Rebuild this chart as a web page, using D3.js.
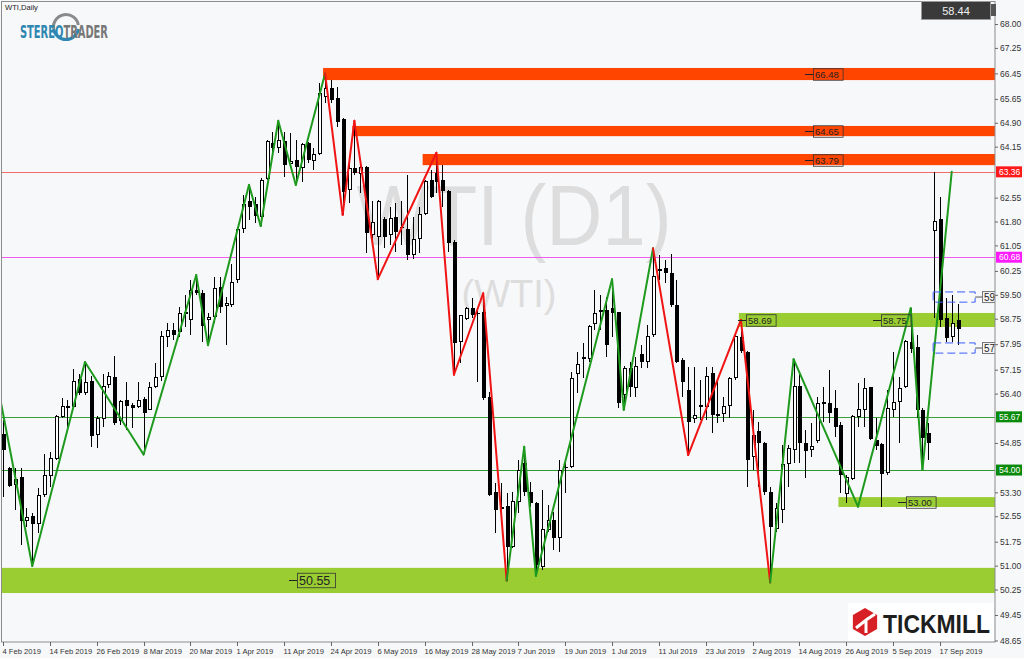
<!DOCTYPE html>
<html><head><meta charset="utf-8">
<script src="https://cdn.jsdelivr.net/npm/d3@7/dist/d3.min.js"></script>
<style>
html,body{margin:0;padding:0;background:#f7f8fa;}
svg{display:block;}
</style></head><body>
<svg id="c" width="1024" height="658"></svg>
<script>
// ---------- DATA ----------
const open = [55.12,54.05,53.56,53.79,52.43,52.56,52.33,53.22,53.84,54.37,55.67,55.97,55.99,56.85,56.43,56.79,55.12,55.62,56.67,56.91,
55.57,56.20,56.04,55.99,56.23,55.90,56.62,56.93,58.19,58.40,58.34,58.93,58.71,59.65,59.55,58.71,58.82,59.73,59.15,59.21,
59.97,61.59,62.45,62.34,61.95,63.16,64.25,64.13,64.34,63.63,63.73,63.50,64.25,63.73,63.94,65.72,65.98,65.67,65.01,62.79,
63.47,63.31,63.50,61.38,61.33,61.87,61.38,61.95,61.64,61.56,60.78,61.27,62.06,63.10,63.33,63.10,62.77,61.17,58.03,58.76,
59.08,58.92,58.97,56.30,53.32,52.83,52.87,51.60,53.01,54.21,53.32,52.98,50.97,52.14,52.43,51.89,54.08,54.11,57.02,57.56,
57.51,58.60,59.02,59.02,59.10,58.95,56.36,57.19,56.60,57.63,57.40,58.24,60.30,60.33,60.17,59.18,57.45,56.51,55.63,55.99,
55.99,57.04,55.76,55.76,56.04,56.91,58.19,57.72,54.42,55.21,54.84,53.32,52.17,52.75,54.21,54.65,56.64,54.84,54.65,54.94,
56.15,56.12,55.94,55.41,53.27,53.74,55.68,55.89,56.60,54.94,54.81,53.92,55.91,56.15,56.62,58.03,57.85,55.89,55.15,61.51,
61.87,58.76,58.19,58.71];
const high = [55.57,54.11,54.05,54.05,52.80,52.64,53.43,54.50,54.58,55.73,56.25,56.20,57.16,57.03,57.39,56.95,55.70,57.03,57.09,57.58,
56.20,56.77,56.09,56.77,56.30,56.77,57.37,58.35,58.61,58.61,59.13,59.50,59.97,60.12,59.65,58.92,60.07,60.07,59.44,60.47,
61.64,62.63,62.95,62.58,63.16,64.36,64.62,64.96,64.62,64.57,64.36,64.28,64.31,64.10,66.14,66.45,66.24,66.03,65.04,63.68,
64.96,63.57,63.54,62.43,62.48,61.95,62.27,62.37,62.43,63.26,61.95,62.27,63.10,63.42,63.96,63.57,62.79,61.22,58.87,59.13,
59.39,59.02,59.55,56.46,53.58,53.58,53.27,53.32,54.32,54.73,53.64,53.01,53.38,52.90,52.69,54.32,54.32,57.09,57.72,57.98,
58.55,59.65,59.49,59.44,59.99,58.97,57.27,57.40,57.56,57.92,58.55,60.96,60.75,60.59,60.78,59.97,57.51,57.25,57.25,56.83,
57.25,57.25,56.83,56.30,56.93,58.29,58.71,57.75,55.89,55.52,54.89,53.48,52.96,54.79,54.79,57.48,57.04,55.26,55.47,56.30,
56.62,57.14,56.51,55.52,53.85,55.73,56.72,56.88,56.62,55.62,54.84,56.51,57.72,56.93,58.08,59.08,58.24,55.94,55.47,63.36,
62.58,59.39,59.49,59.21];
const low = [53.16,53.48,52.75,51.65,52.22,50.99,52.01,53.16,53.48,54.31,55.62,55.36,55.94,56.35,56.35,54.73,54.68,55.36,56.56,55.41,
55.41,55.26,55.31,55.94,54.49,55.88,56.56,56.80,57.87,58.08,58.19,58.50,58.24,59.50,58.03,57.93,58.61,58.92,57.93,59.13,
59.88,61.43,61.85,61.74,61.66,63.10,63.94,63.94,63.21,63.52,62.95,63.05,63.63,63.42,63.89,65.51,65.51,64.78,62.01,62.37,
63.26,62.69,60.82,61.17,59.99,60.96,61.06,60.85,61.06,60.59,60.62,60.80,62.01,62.53,62.69,62.27,60.85,56.99,57.35,58.71,
58.76,56.77,56.20,53.17,52.02,52.33,50.53,51.55,52.64,53.17,52.85,50.68,50.86,52.07,51.49,51.44,53.27,54.06,56.41,56.88,
57.40,58.40,58.40,57.56,58.19,55.94,55.89,56.30,56.30,57.19,57.19,58.19,59.97,59.86,59.13,57.35,56.30,54.47,55.47,55.57,
55.57,55.15,55.47,55.52,55.62,56.83,57.66,53.48,54.00,53.48,53.22,50.47,52.07,52.33,53.48,54.21,54.21,53.74,54.42,54.84,
55.52,55.47,55.05,53.27,52.96,53.69,55.36,55.36,54.94,54.63,52.83,53.85,55.68,54.84,56.57,57.66,55.62,54.00,54.32,58.76,
58.50,58.03,58.03,57.93];
const close = [54.63,53.51,53.71,52.40,52.52,52.31,53.19,53.84,54.37,55.69,56.01,55.99,56.79,56.41,56.74,55.07,55.62,56.62,56.95,55.47,
56.15,56.02,55.94,56.17,55.78,56.58,56.91,58.20,58.38,58.24,58.92,58.96,59.65,59.55,58.53,58.78,59.71,59.13,59.23,59.89,
61.54,62.34,62.27,61.97,63.10,64.31,64.10,64.34,63.58,63.68,63.50,64.23,63.73,63.89,65.82,65.98,65.61,64.93,62.74,63.47,
63.33,63.50,61.43,61.78,62.43,61.33,61.90,61.48,61.59,60.75,61.24,62.03,63.05,62.58,63.05,62.77,61.12,57.98,58.84,59.08,
58.87,58.90,56.25,53.22,52.75,52.77,51.60,53.01,54.00,53.32,52.96,51.02,52.12,52.41,51.86,54.00,54.05,56.86,57.32,57.49,
58.50,58.92,58.97,57.92,58.94,56.09,57.19,56.62,57.25,57.40,58.19,60.09,60.26,60.19,59.18,57.40,56.77,55.52,55.70,56.04,
56.95,55.73,55.70,55.99,56.88,58.19,57.75,54.32,55.07,54.84,53.32,52.20,52.80,54.16,54.68,56.62,54.84,54.61,54.73,56.09,
56.07,55.80,55.36,53.85,53.77,55.68,55.89,56.57,54.99,54.76,53.88,55.94,56.12,56.57,58.03,57.79,55.89,55.00,54.84,61.80,
58.71,58.16,58.61,58.42];

const dateTickBars = [0,8,16,24,32,40,48,56,64,72,80,88,96,104,112,120,128,136,144,152,160];
const dateTickLabels = ["4 Feb 2019","14 Feb 2019","26 Feb 2019","8 Mar 2019","20 Mar 2019","1 Apr 2019","11 Apr 2019",
  "24 Apr 2019","6 May 2019","16 May 2019","28 May 2019","7 Jun 2019","19 Jun 2019","1 Jul 2019","11 Jul 2019",
  "23 Jul 2019","2 Aug 2019","14 Aug 2019","26 Aug 2019","5 Sep 2019","17 Sep 2019"];
const priceTicks = [68.00,67.25,66.45,65.65,64.90,64.15,62.55,61.80,61.05,60.25,59.50,58.75,57.95,57.15,56.40,
  54.85,53.30,52.55,51.75,51.00,50.25,49.45,48.65];

const levelPrices = [63.36, 60.68, 55.67, 54.00];

const zigBars   = [-1,5,14,24,33,35,42,44,47,50,55,58,60,64,74,77,82,86,89,91,104,106,111,117,126,131,135,146,155,157,162];
const zigPrices = [56.74,50.99,57.39,54.49,60.12,57.92,62.95,61.66,64.96,62.95,66.45,62.01,64.96,59.99,63.96,56.99,59.55,
  50.53,54.73,50.68,59.99,55.89,60.96,54.47,58.71,50.47,57.48,52.85,59.08,54.00,63.36];
const zigDownTrendRuns = [[10,16],[22,24]]; // segment index ranges drawn as bearish swings

const resistStart = [55, 60, 72];
const resistTop = [66.62, 64.80, 63.92];
const resistBottom = [66.24, 64.48, 63.57];
const resistValue = ["66.48","64.65","63.79"];

const supportStart = [126, 143, -2];
const supportTop = [58.93, 53.15, 50.93];
const supportBottom = [58.49, 52.84, 50.14];
const supportValue = ["58.69","53.00","50.55"];

const projBars = [159, 166];
const projUpper = [59.59, 59.27];
const projLower = [57.99, 57.67];
const projLabels = ["59.","57."];

const lastPrice = "58.44";

// ---------- DRAW ----------
const svg = d3.select("#c");
const R = 995, B = 642;
const F = "Liberation Sans, Arial, sans-serif";
const x = d3.scaleLinear().domain([0,160]).range([3,940]);
const y = d3.scaleLinear().domain([48.65,68]).range([640.5,24]);

svg.append("rect").attr("width",1024).attr("height",658).attr("fill","#f7f8fa");

const defs = svg.append("defs");
defs.append("clipPath").attr("id","plot").append("rect").attr("x",2).attr("y",2).attr("width",R-2).attr("height",B-2);

const plot = svg.append("g").attr("clip-path","url(#plot)");

// watermark
plot.append("text").attr("x",514).attr("y",245).attr("text-anchor","middle")
  .attr("font-family",F).attr("font-size",86).attr("fill","#dddddd")
  .attr("textLength",315).attr("lengthAdjust","spacingAndGlyphs").text("WTI (D1)");
plot.append("text").attr("x",509).attr("y",307).attr("text-anchor","middle")
  .attr("font-family",F).attr("font-size",39).attr("fill","#dddddd")
  .attr("textLength",95).attr("lengthAdjust","spacingAndGlyphs").text("(WTI)");

// zones
const zoneG = plot.append("g");
resistStart.forEach((s,k)=>{
  zoneG.append("rect").attr("x",x(s)-2).attr("y",y(resistTop[k])).attr("width",R-x(s)+2)
    .attr("height",y(resistBottom[k])-y(resistTop[k])).attr("fill","#ff4500");
});
supportStart.forEach((s,k)=>{
  zoneG.append("rect").attr("x",x(s)-2).attr("y",y(supportTop[k])).attr("width",R-x(s)+2)
    .attr("height",y(supportBottom[k])-y(supportTop[k])).attr("fill","#9acd32");
});

// level lines
const levelColors = ["#f26b6b","#f05cf0","#3aa03a","#2e9a2e"];
levelPrices.forEach((p,k)=>{
  plot.append("line").attr("x1",0).attr("x2",R).attr("y1",Math.round(y(p))+0.5).attr("y2",Math.round(y(p))+0.5)
    .attr("stroke",levelColors[k]).attr("stroke-width",1);
});

// candles
const data = open.map((o,i)=>({i,o,h:high[i],l:low[i],c:close[i]}));
const cg = plot.append("g").attr("shape-rendering","crispEdges");
cg.selectAll("line.w").data(data).join("line")
  .attr("x1",d=>Math.round(x(d.i))+0.5).attr("x2",d=>Math.round(x(d.i))+0.5)
  .attr("y1",d=>y(d.h)).attr("y2",d=>y(d.l)).attr("stroke","#000").attr("stroke-width",1);
cg.selectAll("rect.b").data(data).join("rect")
  .attr("x",d=> d.c>=d.o ? Math.round(x(d.i))-1 : Math.round(x(d.i))-1.5)
  .attr("y",d=>y(Math.max(d.o,d.c)))
  .attr("width",d=> d.c>=d.o ? 3 : 4)
  .attr("height",d=>Math.max(1,Math.abs(y(d.o)-y(d.c))))
  .attr("fill",d=> d.c>=d.o ? "#fff" : "#000")
  .attr("stroke",d=> d.c>=d.o ? "#000" : "none").attr("stroke-width",1);

// zigzag
const zig = zigBars.map((b,k)=>[x(b),y(zigPrices[k])]);
for(let k=0;k<zig.length-1;k++){
  const down = zigDownTrendRuns.some(r=>k>=r[0]&&k<=r[1]);
  plot.append("line").attr("x1",zig[k][0]).attr("y1",zig[k][1]).attr("x2",zig[k+1][0]).attr("y2",zig[k+1][1])
    .attr("stroke",down?"#f01414":"#1e9a1e").attr("stroke-width",2).attr("stroke-linecap","round");
}

// projection boxes
const pg = plot.append("g");
[[projUpper,projLabels[0]],[projLower,projLabels[1]]].forEach(([pr,lab])=>{
  pg.append("rect").attr("x",x(projBars[0])-1).attr("y",y(pr[0])).attr("width",x(projBars[1])-x(projBars[0])+1)
    .attr("height",y(pr[1])-y(pr[0])).attr("fill","none").attr("stroke","#3a5cff").attr("stroke-width",1)
    .attr("stroke-dasharray","8,4");
  const ym = (y(pr[0])+y(pr[1]))/2;
  pg.append("line").attr("x1",x(projBars[1])).attr("x2",983).attr("y1",ym).attr("y2",ym).attr("stroke","#555");
  pg.append("rect").attr("x",982.5).attr("y",ym-5.5).attr("width",26).attr("height",11).attr("fill","#f4f4f4").attr("stroke","#777");
  pg.append("text").attr("x",984).attr("y",ym+3.5).attr("font-family",F).attr("font-size",10).attr("fill","#222").text(lab);
});

// zone labels
function zoneLabel(x0, p, txt, fs, bg){
  const ym = Math.round(y(p))+0.5;
  const w = txt.length*fs*0.56+3, h = fs+2;
  plot.append("line").attr("x1",x0-8).attr("x2",x0).attr("y1",ym).attr("y2",ym).attr("stroke","#222");
  plot.append("rect").attr("x",x0+0.5).attr("y",ym-h/2).attr("width",w).attr("height",h)
    .attr("fill",bg).attr("stroke","#333").attr("stroke-width",0.8);
  plot.append("text").attr("x",x0+2).attr("y",ym+fs*0.36).attr("font-family",F).attr("font-size",fs).attr("fill","#222").text(txt);
}
resistValue.forEach((v,k)=>zoneLabel(813,(resistTop[k]+resistBottom[k])/2,v,9.5,"none"));
zoneLabel(746,(supportTop[0]+supportBottom[0])/2,supportValue[0],9.5,"none");
zoneLabel(881,(supportTop[0]+supportBottom[0])/2,"58.75",9.5,"none");
zoneLabel(906,(supportTop[1]+supportBottom[1])/2,supportValue[1],9.5,"none");
zoneLabel(297,(supportTop[2]+supportBottom[2])/2,supportValue[2],12.5,"none");

// frame
svg.append("rect").attr("x",1.5).attr("y",1.5).attr("width",R-1.5).attr("height",B-1.5)
  .attr("fill","none").attr("stroke","#8c8c8c").attr("stroke-width",1);

// right axis
const ax = svg.append("g").attr("transform",`translate(${R},0)`)
  .call(d3.axisRight(y).tickValues(priceTicks).tickSize(3).tickFormat(d3.format(".2f")));
ax.select(".domain").remove();
ax.selectAll("line").attr("stroke","#666");
ax.selectAll("text").attr("font-family",F).attr("font-size",8.5).attr("fill","#333").attr("x",5);

// level price markers
const markerBg = ["#ff1a1a","#ff1aff","#0a8a0a","#0a8a0a"];
levelPrices.forEach((p,k)=>{
  const ym = y(p);
  svg.append("rect").attr("x",996).attr("y",ym-5.5).attr("width",26).attr("height",11).attr("fill",markerBg[k]);
  svg.append("text").attr("x",999).attr("y",ym+3.2).attr("font-family",F).attr("font-size",8.5)
    .attr("fill","#fff").text(p.toFixed(2));
});

// bottom axis
const bx = svg.append("g");
dateTickBars.forEach((b,k)=>{
  const xt = Math.round(x(b))+0.5;
  bx.append("line").attr("x1",xt).attr("x2",xt).attr("y1",B).attr("y2",B+4).attr("stroke","#666");
  bx.append("text").attr("x",xt-1).attr("y",654).attr("font-family",F).attr("font-size",7.6).attr("fill","#333").text(dateTickLabels[k]);
});

// title
svg.append("text").attr("x",5).attr("y",10).attr("font-family",F).attr("font-size",7.6).attr("fill","#222").text("WTI,Daily");

// last price box
svg.append("rect").attr("x",921.5).attr("y",1.5).attr("width",69).attr("height",18).attr("fill","#3a3a3a").attr("stroke","#999");
svg.append("text").attr("x",956).attr("y",15).attr("text-anchor","middle").attr("font-family",F).attr("font-size",11)
  .attr("fill","#f0f0f0").text(lastPrice);
svg.append("rect").attr("x",991).attr("y",4).attr("width",5).attr("height",12).attr("fill","#555");

// StereoTrader logo
const lg = svg.append("g");
const arc = d3.arc();
lg.append("path").attr("transform","translate(66,27)")
  .attr("d",arc({innerRadius:11,outerRadius:14,startAngle:-Math.PI*0.55,endAngle:Math.PI*0.45})).attr("fill","#8a8a8a");
lg.append("path").attr("transform","translate(66,27)")
  .attr("d",arc({innerRadius:11,outerRadius:14,startAngle:Math.PI*0.55,endAngle:Math.PI*1.45})).attr("fill","#2f86b0");
const LF = "DejaVu Sans Condensed, DejaVu Sans, sans-serif";
const logoT = lg.append("text").attr("font-family",LF).attr("font-weight","bold").attr("font-size",18);
logoT.append("tspan").attr("fill","#2f86b0").text("STEREO");
logoT.append("tspan").attr("fill","#777").text("TRADER");
const natW = logoT.node().getComputedTextLength() || 150;
logoT.attr("transform",`translate(20,38) scale(${88/natW},1)`);

// Tickmill logo
const tg = svg.append("g");
tg.append("rect").attr("x",848).attr("y",603).attr("width",146).attr("height",38).attr("fill","#ffffff");
const hex = d3.range(6).map(k=>{const a=Math.PI/3*k+Math.PI/6; return [865+14*Math.cos(a), 622+14*Math.sin(a)];});
tg.append("polygon").attr("points",hex.map(p=>p.join(",")).join(" ")).attr("fill","#d71f26");
tg.append("path").attr("d","M856,628 L866,620 L866,633 M866,620 L875,614").attr("stroke","#fff").attr("stroke-width",3).attr("fill","none");
tg.append("text").attr("x",883).attr("y",633).attr("font-family",F).attr("font-weight","bold").attr("font-size",25)
  .attr("fill","#1e1e1e").attr("textLength",107).attr("lengthAdjust","spacingAndGlyphs").text("TICKMILL");
</script>
</body></html>
